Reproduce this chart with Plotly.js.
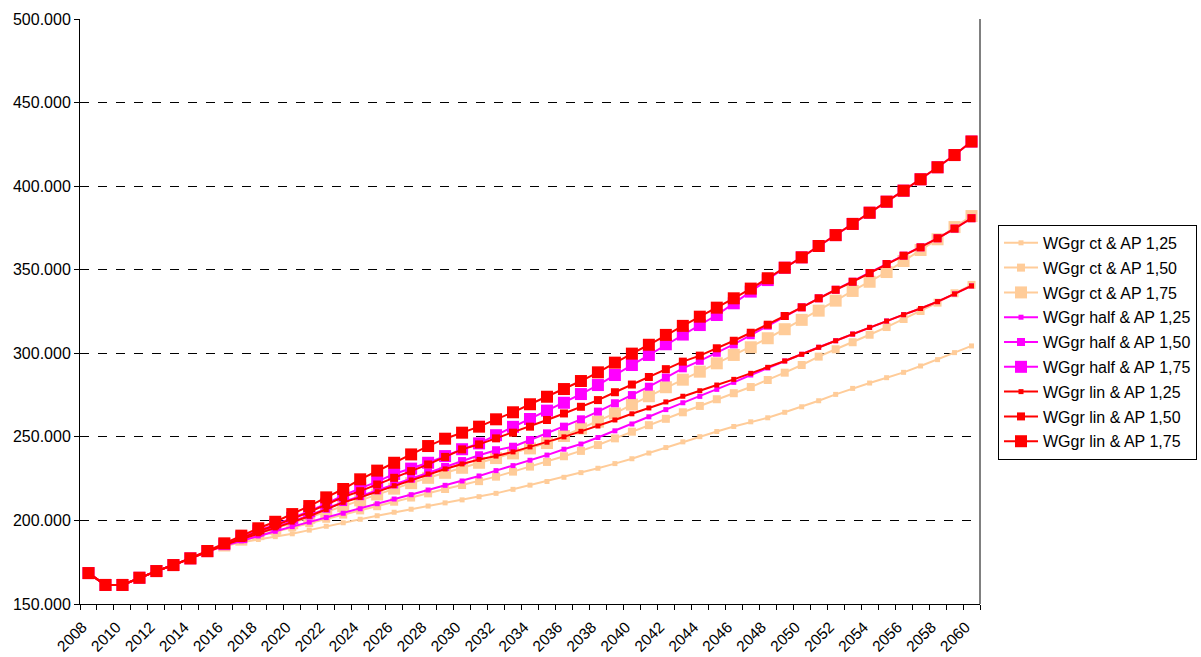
<!DOCTYPE html>
<html>
<head>
<meta charset="utf-8">
<script src="https://cdn.plot.ly/plotly-3.0.1.min.js"></script>
<style>html,body{margin:0;padding:0;background:#fff;}#chart{width:1201px;height:657px;}</style>
</head>
<body>
<div id="chart"></div>
<script>
const years = [];
for (let y = 2008; y <= 2060; y++) years.push(y);

const common = [168.5, 161.4, 161.4, 165.7, 169.7, 173.3, 177.3];

const ct125 = common.concat([181.2, 184.6, 186.9, 188.6, 190.3, 192.0, 194.2, 196.5, 198.6, 200.7, 202.8, 204.9, 206.7, 208.6, 210.5, 212.3, 214.2, 216.2, 218.6, 221.1, 223.3, 225.8, 228.6, 231.2, 234.0, 236.9, 240.3, 243.6, 247.0, 250.1, 253.2, 256.2, 259.0, 261.4, 264.7, 268.0, 271.6, 275.4, 279.0, 282.2, 285.4, 288.6, 292.4, 296.2, 300.4, 304.4]);
const ct150 = common.concat([181.3, 184.8, 187.8, 190.6, 193.2, 195.8, 198.4, 201.0, 203.5, 206.0, 208.5, 211.2, 213.7, 216.2, 218.8, 221.2, 223.5, 226.2, 229.2, 232.2, 235.0, 238.4, 241.6, 245.1, 249.1, 253.1, 257.0, 260.8, 264.7, 268.5, 272.5, 276.1, 279.8, 284.0, 288.4, 293.0, 298.0, 302.4, 306.6, 311.1, 315.7, 320.5, 325.3, 330.3, 335.9, 340.9]);
const ct175 = common.concat([181.4, 185.0, 188.5, 191.8, 195.0, 198.3, 201.6, 205.0, 208.5, 212.0, 215.5, 219.0, 222.3, 225.5, 228.5, 231.5, 234.5, 237.3, 240.1, 243.1, 246.3, 250.5, 255.0, 259.1, 264.0, 269.3, 274.3, 279.7, 284.2, 289.0, 294.0, 299.0, 303.6, 309.0, 314.4, 320.0, 325.5, 331.5, 337.3, 342.8, 348.6, 355.2, 361.8, 368.2, 375.5, 382.1]);
const half125 = common.concat([181.4, 184.8, 187.8, 190.7, 193.5, 196.3, 199.0, 201.7, 204.3, 207.0, 210.0, 212.8, 215.4, 218.2, 221.0, 223.6, 226.6, 229.8, 232.8, 236.0, 239.1, 242.6, 245.7, 249.6, 253.6, 257.7, 262.0, 266.3, 270.4, 274.2, 278.4, 282.6, 287.0, 291.2, 295.4, 299.4, 303.6, 307.5, 311.5, 315.5, 319.3, 323.1, 326.8, 330.9, 335.5, 340.3]);
const half150 = common.concat([181.5, 185.3, 189.0, 192.5, 196.0, 199.5, 203.0, 207.0, 211.0, 214.5, 218.0, 221.5, 225.0, 228.5, 232.0, 235.5, 239.0, 242.0, 244.1, 248.1, 252.1, 256.1, 260.5, 265.1, 270.1, 275.0, 280.0, 285.5, 291.0, 295.5, 300.3, 305.3, 310.8, 316.5, 322.3, 327.5, 332.9, 338.0, 342.8, 348.0, 353.4, 358.4, 363.4, 368.8, 374.6, 380.8]);
const half175 = common.concat([181.6, 185.8, 190.0, 194.0, 197.5, 201.5, 205.5, 210.0, 215.0, 219.2, 223.2, 227.8, 231.0, 234.5, 238.5, 242.6, 246.1, 251.0, 256.0, 260.7, 265.7, 270.4, 275.6, 281.0, 287.0, 293.0, 299.0, 305.4, 311.2, 316.9, 322.9, 329.9, 336.9, 343.8, 351.2, 357.4, 364.2, 370.7, 377.4, 384.1, 390.7, 397.3, 404.1, 411.3, 418.6, 426.7]);
const lin125 = common.concat([181.5, 185.2, 188.7, 192.0, 195.5, 199.0, 202.5, 206.5, 210.8, 213.8, 217.2, 220.8, 224.2, 227.8, 230.8, 233.8, 236.5, 238.5, 241.0, 244.0, 246.8, 250.0, 253.3, 256.5, 260.1, 263.8, 267.3, 270.9, 274.3, 277.6, 281.0, 284.4, 288.0, 291.6, 295.4, 299.4, 303.6, 307.5, 311.5, 315.5, 319.3, 323.1, 326.8, 330.9, 335.5, 340.3]);
const lin150 = common.concat([181.6, 185.6, 189.5, 193.5, 197.0, 201.0, 205.0, 209.5, 214.0, 217.5, 221.5, 225.5, 229.5, 233.5, 238.0, 242.5, 245.5, 249.1, 252.5, 256.1, 260.1, 264.0, 268.0, 272.0, 276.7, 281.3, 285.8, 290.5, 295.0, 298.6, 303.0, 307.5, 312.3, 317.1, 322.3, 327.5, 332.9, 338.0, 342.8, 348.0, 353.4, 358.4, 363.4, 368.8, 374.6, 380.8]);
const lin175 = common.concat([181.7, 186.3, 190.9, 195.3, 199.2, 203.8, 208.6, 213.8, 218.8, 224.6, 229.8, 234.5, 239.5, 244.5, 248.9, 252.5, 256.1, 260.5, 264.7, 269.5, 274.0, 278.6, 283.4, 288.6, 294.4, 299.8, 305.1, 311.0, 316.4, 321.9, 327.3, 332.9, 338.7, 344.9, 351.2, 357.4, 364.2, 370.7, 377.4, 384.1, 390.7, 397.3, 404.1, 411.3, 418.6, 426.7]);

const seriesNames = ["WGgr ct & AP 1,25", "WGgr ct & AP 1,50", "WGgr ct & AP 1,75",
  "WGgr half & AP 1,25", "WGgr half & AP 1,50", "WGgr half & AP 1,75",
  "WGgr lin & AP 1,25", "WGgr lin & AP 1,50", "WGgr lin & AP 1,75"];
const seriesData = [ct125, ct150, ct175, half125, half150, half175, lin125, lin150, lin175];
const seriesColors = ["#FFCC99", "#FFCC99", "#FFCC99", "#FF00FF", "#FF00FF", "#FF00FF", "#FF0000", "#FF0000", "#FF0000"];
const markerSizes = [5, 8, 12, 5, 8, 12, 5, 8, 12];

const tickYears = years.filter(y => (y - 2008) % 2 === 0);
const yTicks = [150000, 200000, 250000, 300000, 350000, 400000, 450000, 500000];

const traces = seriesData.map((d, i) => ({
  type: "scatter",
  mode: "lines+markers",
  name: seriesNames[i],
  legendgroup: seriesNames[i],
  x: years,
  y: d.map(v => v * 1000),
  line: {color: seriesColors[i], width: 2},
  marker: {symbol: "square", size: markerSizes[i], color: seriesColors[i]},
  hoverinfo: "x+y+name"
}));

const layout = {
  width: 1201, height: 657,
  margin: {l: 80, r: 221, t: 19, b: 53, autoexpand: false},
  paper_bgcolor: "#ffffff",
  plot_bgcolor: "#ffffff",
  separators: ",.",
  font: {family: "Liberation Sans, Arial, sans-serif", size: 16, color: "#000"},
  showlegend: true,
  legend: {
    x: 1.02, y: 0.648, xanchor: "left", yanchor: "top",
    bordercolor: "#000", borderwidth: 1,
    font: {family: "Liberation Sans, Arial, sans-serif", size: 16, color: "#000"},
    tracegroupgap: 1,
    itemwidth: 34
  },
  xaxis: {
    type: "linear",
    range: [2007.5, 2060.5],
    tickvals: tickYears,
    ticktext: tickYears.map(String),
    tickangle: -45,
    ticks: "",
    ticklabelstandoff: 7,
    ticklabelshift: -6,
    showgrid: false,
    zeroline: false,
    showline: true, linecolor: "#000", linewidth: 1,
    tickfont: {size: 15.5},
    minor: {ticks: "outside", tick0: 2007.5, dtick: 1, ticklen: 5, tickcolor: "#000", showgrid: false}
  },
  yaxis: {
    range: [150000, 500000],
    tickvals: yTicks,
    tickformat: ",.0f",
    ticks: "outside", ticklen: 5, tickcolor: "#000",
    showgrid: true, gridcolor: "#000", griddash: "dash", gridwidth: 1,
    zeroline: false,
    showline: true, linecolor: "#000", linewidth: 1,
    tickfont: {size: 16}
  },
  shapes: [
    {type: "line", xref: "paper", yref: "paper", x0: 1, x1: 1, y0: 0, y1: 1, line: {color: "#808080", width: 2}}
  ]
};

Plotly.newPlot("chart", traces, layout, {displayModeBar: false, staticPlot: true});
</script>
</body>
</html>
